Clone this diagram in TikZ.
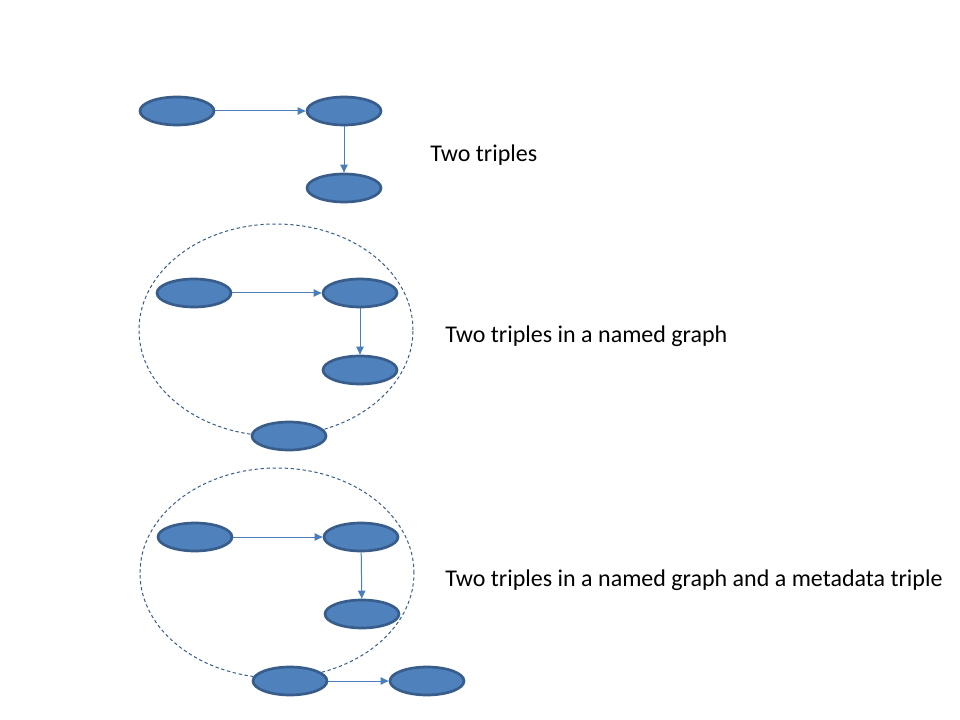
\documentclass[tikz,border=0pt]{standalone}
\usepackage{fontspec}
\setmainfont{Carlito}
\usetikzlibrary{shapes.geometric, arrows.meta, positioning}
\definecolor{nodefill}{RGB}{79,129,189}
\definecolor{nodeline}{RGB}{56,93,138}
\definecolor{edgeline}{RGB}{74,126,187}
\tikzset{
  res/.style={ellipse, draw=nodeline, line width=2pt, fill=nodefill,
              minimum width=55.5pt, minimum height=21pt, inner sep=0pt},
  link/.style={-{Triangle[length=6pt, width=5.5pt]}, line width=0.75pt, color=edgeline},
  graphbox/.style={ellipse, draw=nodeline, dash pattern=on 2.5pt off 2pt,
                   line width=0.75pt, inner sep=0pt, minimum width=205.5pt},
  caption/.style={anchor=west, font=\fontsize{18}{22}\selectfont, inner sep=0pt},
}

\begin{document}
\begin{tikzpicture}[x=0.75pt, y=-0.75pt]
        \useasboundingbox (0,0) rectangle (960,720);

        % Two triples
        \node[res] (s1) at (177,111) {};
        \node[res] (o1) at (344,111) {};
        \node[res] (p1) at (344,188) {};
        \draw[link] (s1) -- (o1);
        \draw[link] (o1) -- (p1);
        \node[caption] (c1) at (430,155) {Two triples};

        % Two triples in a named graph
        \node[graphbox, minimum height=159pt] (g2) at (276,330) {};
        \node[res] (s2) at (194,293) {};
        \node[res] (o2) at (360,293) {};
        \node[res] (p2) at (360,370) {};
        \node[res] (n2) at (289,436) {};
        \draw[link] (s2) -- (o2);
        \draw[link] (o2) -- (p2);
        \node[caption] (c2) at (445,336) {Two triples in a named graph};

        % Named graph with a metadata triple
        \node[graphbox, minimum height=157.5pt] (g3) at (277,573) {};
        \node[res] (s3) at (195,537) {};
        \node[res] (o3) at (361,537) {};
        \node[res] (p3) at (362,614) {};
        \node[res] (n3) at (290,681) {};
        \node[res] (m3) at (427,681) {};
        \draw[link] (s3) -- (o3);
        \draw[link] (o3) -- (p3);
        \draw[link] (n3) -- (m3);
        \node[caption] (c3) at (445,580) {Two triples in a named graph and a metadata triple};
\end{tikzpicture}
\end{document}
